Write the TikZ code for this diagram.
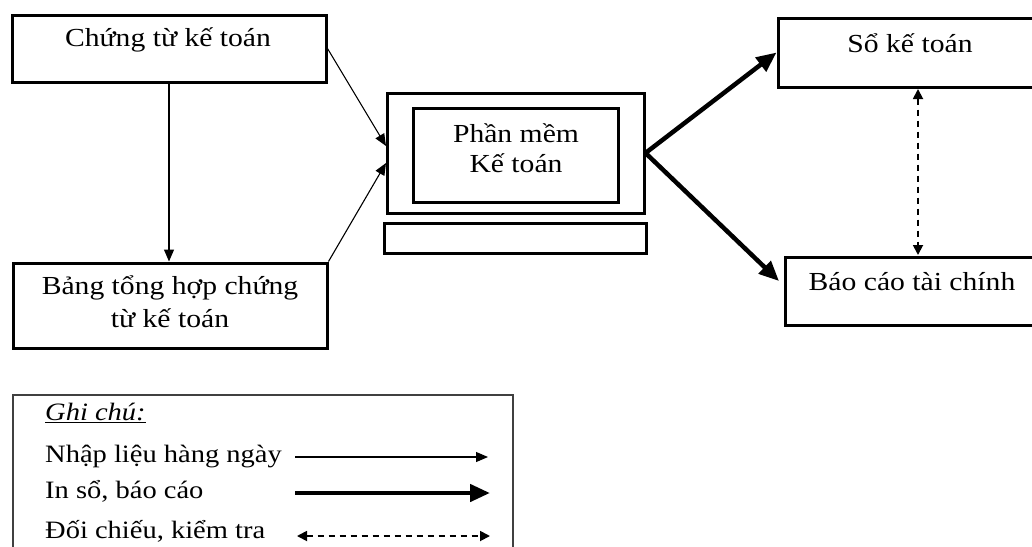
\documentclass[tikz,border=0pt]{standalone}
\usepackage{fontspec}
\setmainfont[FakeStretch=1.14]{Liberation Serif}
\usetikzlibrary{arrows.meta}
\begin{document}
\begin{tikzpicture}[x=1pt,y=-1pt,
  box/.style={draw, line width=3pt, inner sep=0pt},
  legendbox/.style={draw=black!75, line width=1.4pt, inner sep=0pt},
  lbl/.style={font=\fontsize{26}{33}\selectfont, inner sep=0pt, anchor=base, align=center},
  legtext/.style={font=\fontsize{25}{33}\selectfont, inner sep=0pt, anchor=base west},
  entry/.style={line width=1.1pt, -{Triangle[length=12pt,width=10pt]}},
  output/.style={line width=4.5pt, -{Triangle[length=20pt,width=17pt]}},
  check/.style={line width=1.8pt, dash pattern=on 6pt off 5pt,
    {Triangle[length=10pt,width=10pt]}-{Triangle[length=10pt,width=10pt]}},
]
\useasboundingbox (0,0) rectangle (1032,546);
\clip (0,0) rectangle (1032,546);

% source documents and summary sheet
\node[box, minimum width=314pt, minimum height=67pt] (ct) at (169,48.5) {};
\node[box, minimum width=314pt, minimum height=85pt] (bth) at (170,305.5) {};
\node[lbl] (ctt) at (168,46) {Chứng từ kế toán};
\node[lbl] (btht) at (170,327) {Bảng tổng hợp chứng\\từ kế toán};

% computer: screen, inner window, keyboard
\node[box, minimum width=257pt, minimum height=120pt] (mon) at (515.5,153) {};
\node[box, minimum width=205pt, minimum height=94pt] (scr) at (515.5,155) {};
\node[box, minimum width=262pt, minimum height=30pt] (kbd) at (515,238) {};
\node[lbl, font=\fontsize{26}{30}\selectfont] (scrt) at (516,172) {Phần mềm\\Kế toán};

% outputs
\node[box, minimum width=262pt, minimum height=69pt] (so) at (909,52.5) {};
\node[box, minimum width=260pt, minimum height=68pt] (bc) at (915,291) {};
\node[lbl] (sot) at (910,52) {Sổ kế toán};
\node[lbl] (bct) at (912,290) {Báo cáo tài chính};

% connector end points
\coordinate (in1) at (386,146);
\coordinate (in2) at (386,163);
\coordinate (out2) at (779,281);
\coordinate (d1) at (918,89);
\coordinate (d2) at (918,255);

% data entry
\draw[entry] (ct.south) -- (ct.south |- bth.north);
\draw[entry] (ct.east) -- (in1);
\draw[entry] (bth.north east) -- (in2);

% printing
\draw[output] (mon.east) -- (so.west);
\draw[output] (mon.east) -- (out2);

% cross-checking
\draw[check] (d1) -- (d2);

% legend
\node[legendbox, minimum width=500pt, minimum height=170pt] (leg) at (263,480) {};
\node[legtext] (lg0) at (45,420) {\underline{\textit{Ghi chú:}}};
\node[legtext] (lg1) at (45,462) {Nhập liệu hàng ngày};
\node[legtext] (lg2) at (45,498) {In sổ, báo cáo};
\node[legtext] (lg3) at (45,538) {Đối chiếu, kiểm tra};
\coordinate (a1) at (295,457); \coordinate (b1) at (488,457);
\coordinate (a2) at (295,493); \coordinate (b2) at (490,493);
\coordinate (a3) at (297,536); \coordinate (b3) at (490,536);
\draw[entry] (a1) -- (b1);
\draw[output] (a2) -- (b2);
\draw[check] (a3) -- (b3);
\end{tikzpicture}
\end{document}
